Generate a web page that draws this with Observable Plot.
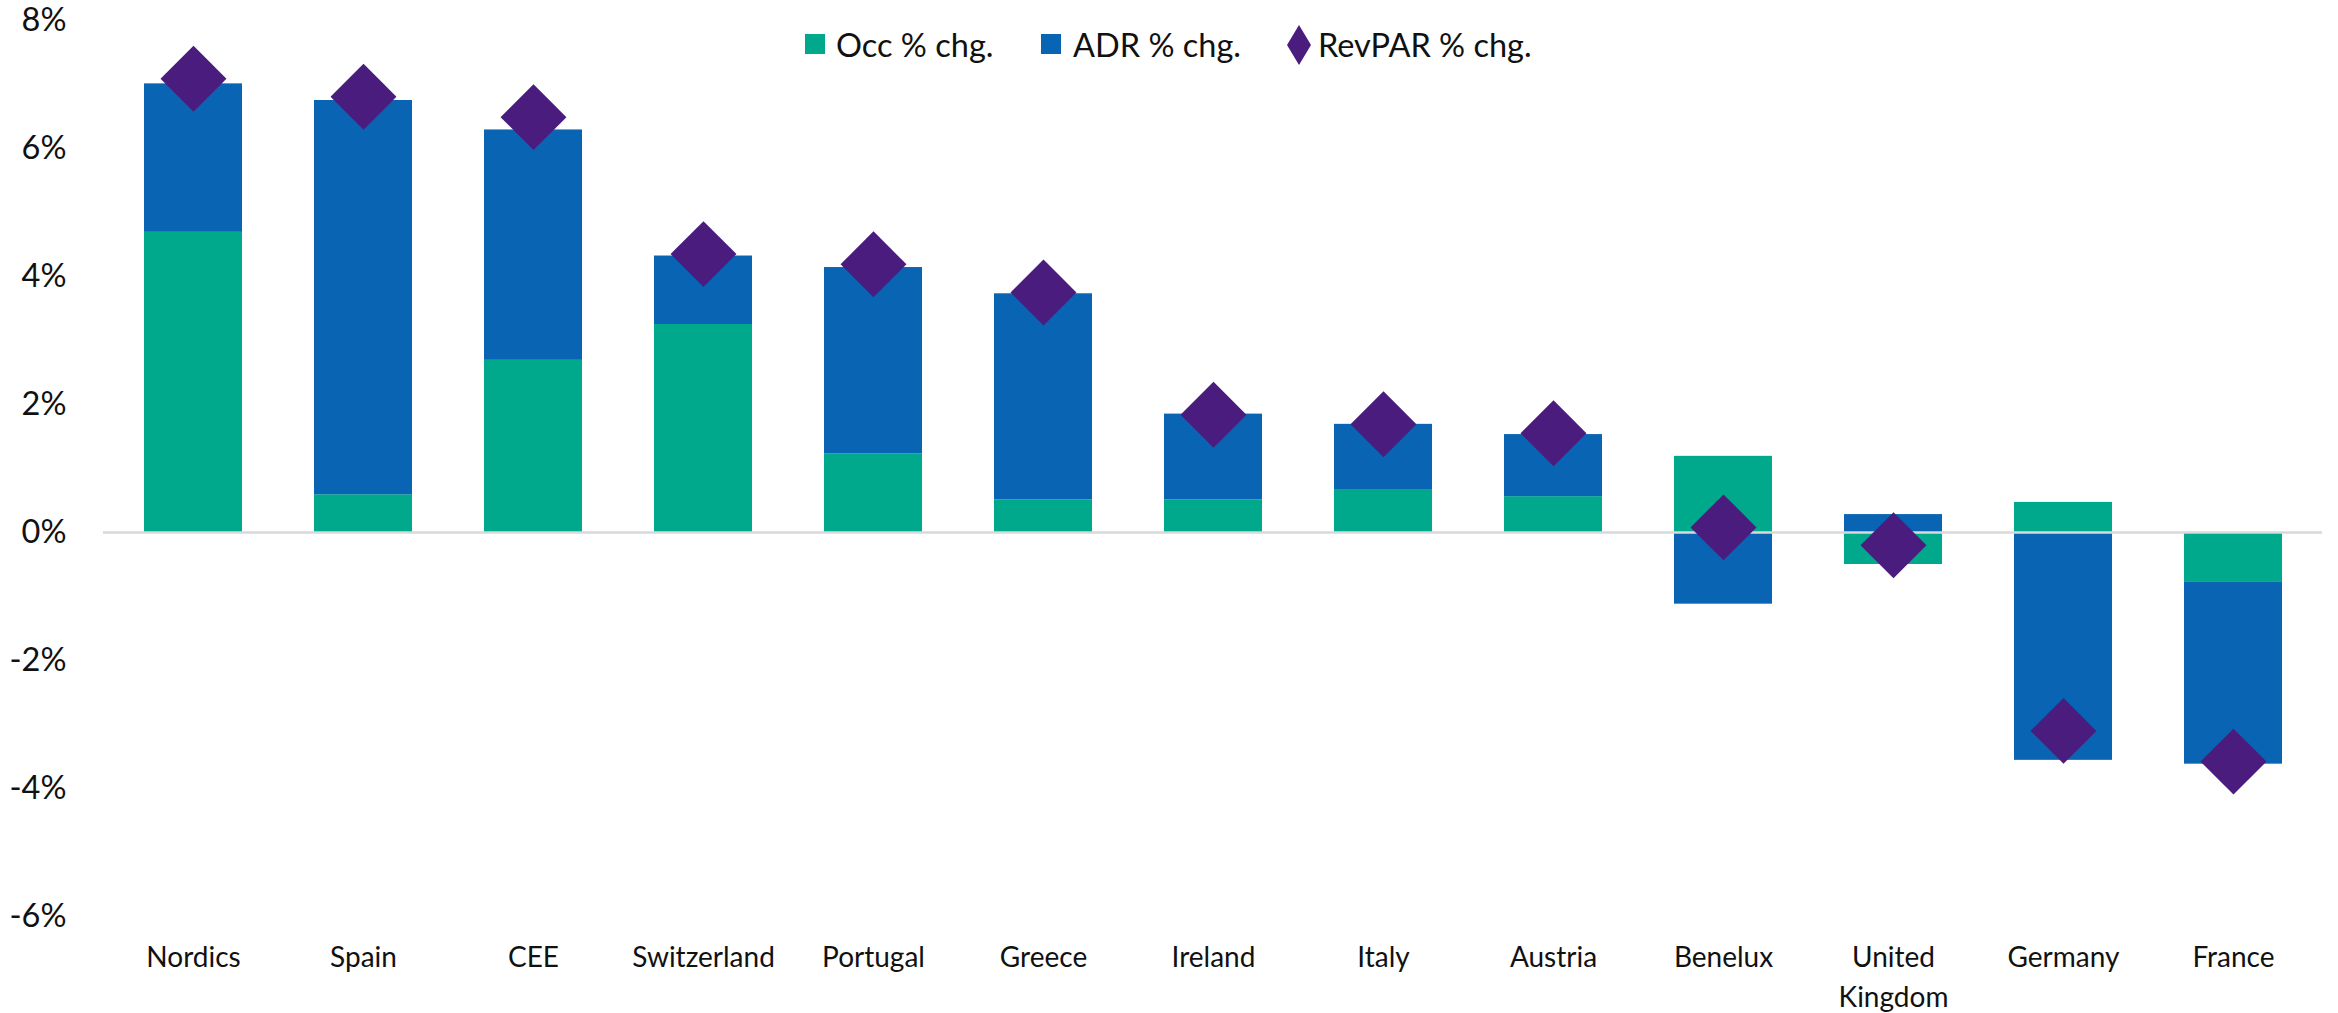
<!DOCTYPE html>
<html>
<head>
<meta charset="utf-8">
<script src="https://cdn.jsdelivr.net/npm/d3@7"></script>
<script src="https://cdn.jsdelivr.net/npm/@observablehq/plot@0.6"></script>
<style>
  html, body { margin: 0; padding: 0; background: #fff; }
  #wrap { position: relative; width: 2338px; height: 1013px; font-family: Lato, "Open Sans", sans-serif; }
  .lg { position: absolute; line-height: normal; font-size: 32.5px; color: #111; white-space: nowrap; }
  .sq { position: absolute; width: 20px; height: 20px; }
</style>
</head>
<body>
<div id="wrap">
  <div id="chart"></div>
  <div class="sq" style="left:805px; top:34px; background:#00A88C"></div>
  <div class="lg" style="left:836px; top:25px">Occ % chg.</div>
  <div class="sq" style="left:1041px; top:34px; background:#0A64B4"></div>
  <div class="lg" style="left:1073px; top:25px">ADR % chg.</div>
  <svg style="position:absolute; left:1287px; top:25px" width="24" height="40"><polygon points="12,0 24,20 12,40 0,20" fill="#491C7E"/></svg>
  <div class="lg" style="left:1318px; top:25px">RevPAR % chg.</div>
</div>
<script>
const categories = ["Nordics","Spain","CEE","Switzerland","Portugal","Greece","Ireland","Italy","Austria","Benelux","United Kingdom","Germany","France"];
const tickLabels = ["Nordics","Spain","CEE","Switzerland","Portugal","Greece","Ireland","Italy","Austria","Benelux","United\nKingdom","Germany","France"];
const occChg    = [4.69, 0.59, 2.69, 3.25, 1.23, 0.51, 0.51, 0.66, 0.56, 1.19, -0.50, 0.47, -0.78];
const adrChg    = [2.32, 6.16, 3.60, 1.07, 2.91, 3.22, 1.34, 1.03, 0.97, -1.12, 0.28, -3.56, -2.84];
const revparChg = [7.09, 6.81, 6.49, 4.35, 4.19, 3.75, 1.84, 1.69, 1.55, 0.08, -0.20, -3.10, -3.58];
const yTicks = [-6, -4, -2, 0, 2, 4, 6, 8];
const seriesNames = ["Occ % chg.", "ADR % chg."];
const seriesColors = ["#00A88C", "#0A64B4"];
const revparColor = "#491C7E";

const barData = [
  ...categories.map((c, i) => ({cat: c, series: seriesNames[0], value: occChg[i]})),
  ...categories.map((c, i) => ({cat: c, series: seriesNames[1], value: adrChg[i]}))
];
const revData = categories.map((c, i) => ({cat: c, value: revparChg[i], label: tickLabels[i]}));

const chart = Plot.plot({
  width: 2338,
  height: 1013,
  marginLeft: 103,
  marginRight: 16,
  marginTop: 20,
  marginBottom: 97,
  style: {fontFamily: "Lato, 'Open Sans', sans-serif", fontSize: "32.5px", color: "#111", background: "#fff"},
  x: {type: "band", domain: categories, paddingInner: 0.426, paddingOuter: 0.213, axis: null},
  y: {domain: [-6, 8], ticks: yTicks, tickFormat: d => `${d}%`, tickSize: 0, tickPadding: 37, label: null},
  color: {domain: seriesNames, range: seriesColors},
  marks: [
    Plot.barY(barData, {x: "cat", y: "value", fill: "series", order: null}),
    Plot.ruleY([0], {stroke: "#D9D9D9", strokeWidth: 2.5}),
    Plot.dot(revData, {x: "cat", y: "value", symbol: "diamond2", r: 29.7, fill: revparColor, stroke: null}),
    Plot.text(revData, {x: "cat", text: "label", frameAnchor: "bottom", lineAnchor: "top", dy: 23, fontSize: 28, lineHeight: 1.4, fill: "#111"})
  ]
});
document.getElementById("chart").appendChild(chart);
</script>
</body>
</html>
